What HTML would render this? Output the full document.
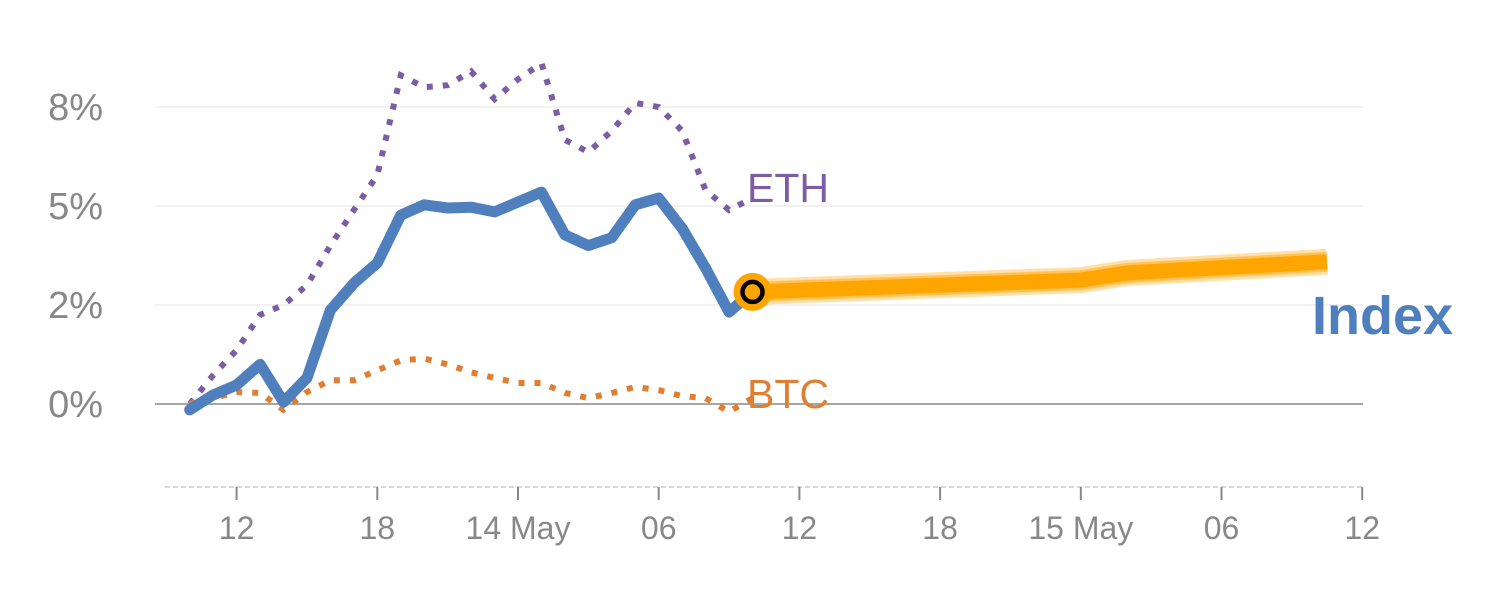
<!DOCTYPE html>
<html><head><meta charset="utf-8"><style>
html,body{margin:0;padding:0;background:#fff;}
svg{display:block;font-family:"Liberation Sans",Arial,sans-serif;}
</style></head><body>
<svg id="chart" width="1500" height="600" viewBox="0 0 1500 600" xmlns="http://www.w3.org/2000/svg">
<g id="grid"></g>
<g id="xaxis"></g>
<g id="series"></g>
</svg>
<script>
const yTicks=[7.5,5,2.5,0];
const yTickLabels=["8%","5%","2%","0%"];
const xTickHours=[-12,-6,0,6,12,18,24,30,36];
const xTickLabels=["12","18","14 May","06","12","18","15 May","06","12"];
const histHours=[-14,-13,-12,-11,-10,-9,-8,-7,-6,-5,-4,-3,-2,-1,0,1,2,3,4,5,6,7,8,9,10];
const indexVals=[-0.15,0.23,0.48,1.0,0.05,0.66,2.37,3.05,3.56,4.77,5.03,4.95,4.97,4.85,5.1,5.35,4.27,4.0,4.2,5.03,5.2,4.44,3.43,2.32,2.83];
const ethVals=[0,0.73,1.36,2.25,2.5,3.0,4.0,4.9,5.78,8.3,8.0,8.05,8.4,7.7,8.2,8.6,6.67,6.36,6.9,7.6,7.5,6.9,5.4,4.9,5.2];
const btcVals=[0,0.15,0.3,0.28,-0.15,0.3,0.6,0.6,0.85,1.1,1.15,1.0,0.8,0.66,0.53,0.53,0.28,0.15,0.28,0.43,0.35,0.2,0.15,-0.2,0.15];
const fcHours=[10,24,26,34.5];
const fcVals=[2.83,3.13,3.31,3.59];

const NS="http://www.w3.org/2000/svg";
const xS=h=>518+h*23.45;
const yS=v=>404-v*39.6;
function mk(tag,attrs,parent,text){const e=document.createElementNS(NS,tag);for(const k in attrs)e.setAttribute(k,attrs[k]);if(text!==undefined)e.textContent=text;parent.appendChild(e);return e;}
const grid=document.getElementById('grid'),xa=document.getElementById('xaxis'),ser=document.getElementById('series');

yTicks.forEach((t,i)=>{
  const y=yS(t);
  const gl=mk('line',{x1:155,x2:1363,y1:y,y2:y,stroke:t===0?'#888':'#e6e6e6','stroke-width':t===0?1.5:1},grid);
  
  
  const lb=mk('text',{x:103,y:y+13,'text-anchor':'end','font-size':38,fill:'#888'},grid,yTickLabels[i]);
  
  
});
const base=mk('line',{x1:165,x2:1365,y1:487,y2:487,stroke:'#ccc','stroke-width':1.5,'stroke-dasharray':'5,3'},xa);


xTickHours.forEach((h,i)=>{
  const x=xS(h);
  const tk=mk('line',{x1:x,x2:x,y1:487,y2:500,stroke:'#888','stroke-width':2},xa);
  
  
  const lb=mk('text',{x:x,y:539,'text-anchor':'middle','font-size':32,fill:'#888'},xa,xTickLabels[i]);
  
  
});
function pts(hs,vs){return hs.map((h,i)=>xS(h).toFixed(1)+','+yS(vs[i]).toFixed(1)).join(' ');}

const eth=mk('polyline',{points:pts(histHours,ethVals),fill:'none',stroke:'#7d5ca6','stroke-width':6,'stroke-dasharray':'6,10'},ser);


const btc=mk('polyline',{points:pts(histHours,btcVals),fill:'none',stroke:'#e07f32','stroke-width':6,'stroke-dasharray':'6,10'},ser);


const idx=mk('polyline',{points:pts(histHours,indexVals),fill:'none',stroke:'#4f7fbd','stroke-width':11,'stroke-linejoin':'round','stroke-linecap':'round'},ser);


const fp=pts(fcHours,fcVals);
const f1=mk('polyline',{points:fp,fill:'none',stroke:'#ffe0a8','stroke-width':26,'stroke-linejoin':'round'},ser);


const f2=mk('polyline',{points:fp,fill:'none',stroke:'#ffc35a','stroke-width':20,'stroke-linejoin':'round'},ser);


const f3=mk('polyline',{points:fp,fill:'none',stroke:'#ffa500','stroke-width':15,'stroke-linejoin':'round'},ser);


const cx=xS(fcHours[0]),cy=yS(fcVals[0]);
const c1=mk('circle',{cx:cx,cy:cy,r:19,fill:'#ffa500'},ser);


const c2=mk('circle',{cx:cx,cy:cy,r:10,fill:'#ffa500',stroke:'#000','stroke-width':4.5},ser);


const last=histHours.length-1;
const le=mk('text',{x:747,y:yS(ethVals[last])+4,'font-size':41,fill:'#7d5ca6'},ser,'ETH');


const lbt=mk('text',{x:747,y:yS(btcVals[last])+10,'font-size':41,fill:'#e07f32'},ser,'BTC');


const li=mk('text',{x:1312,y:334,'font-size':54,'font-weight':'bold',fill:'#4f7fbd'},ser,'Index');


</script>
</body></html>
